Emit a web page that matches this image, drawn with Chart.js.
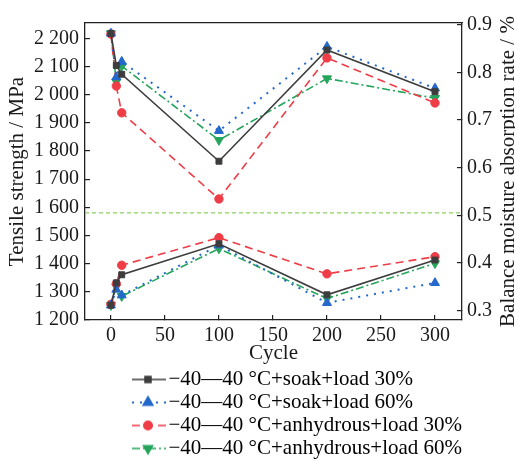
<!DOCTYPE html>
<html>
<head>
<meta charset="utf-8">
<script src="https://cdn.jsdelivr.net/npm/chart.js@4.4.1/dist/chart.umd.min.js"></script>
<style>
  html, body { margin: 0; padding: 0; background: #fff; overflow: hidden; }
  #wrap { width: 515px; height: 461px; }
</style>
</head>
<body>
<div id="wrap"><canvas id="chart"></canvas></div>
<script>
// cycles on the x axis
const cycles = [0, 5, 10, 100, 200, 300]

const seriesNames = [
    '\u221240\u201440 \u00b0C+soak+load 30%',
    '\u221240\u201440 \u00b0C+soak+load 60%',
    '\u221240\u201440 \u00b0C+anhydrous+load 30%',
    '\u221240\u201440 \u00b0C+anhydrous+load 60%'
]

// tensile strength, MPa (left axis)
const strengthSoak30 = [2218, 2104, 2073, 1764, 2159, 2011]
const strengthSoak60 = [2218, 2063, 2118, 1872, 2171, 2023]
const strengthAnhy30 = [2216, 2031, 1936, 1630, 2131, 1971]
const strengthAnhy60 = [2218, 2046, 2102, 1839, 2058, 1988]

// balance moisture absorption rate, % (right axis)
const moistSoak30 = [0.311, 0.358, 0.375, 0.440, 0.333, 0.406]
const moistSoak60 = [0.311, 0.344, 0.332, 0.437, 0.316, 0.358]
const moistAnhy30 = [0.313, 0.356, 0.395, 0.453, 0.377, 0.413]
const moistAnhy60 = [0.311, 0.350, 0.330, 0.430, 0.325, 0.399]

const separatorLevel = 0.505

const xTicks = [0, 50, 100, 150, 200, 250, 300]
const strengthTicks = [1200, 1300, 1400, 1500, 1600, 1700, 1800, 1900, 2000, 2100, 2200]
const moistTicks = [0.3, 0.4, 0.5, 0.6, 0.7, 0.8, 0.9]

const xMin = -24, xMax = 325
const serif = '"Liberation Serif", "Times New Roman", serif'
const ink = '#1a1a1a'

const styles = [
    { color: '#3d3d3d', dash: [], width: 1.6, point: 'rect', radius: 4.2, rotation: 0 },
    { color: '#2468cc', dash: [2, 6], width: 2, point: 'triangle', radius: 5.2, rotation: 0 },
    { color: '#ef3d48', dash: [8, 5], width: 1.6, point: 'circle', radius: 4.2, rotation: 0 },
    { color: '#25a55c', dash: [8, 3, 2, 3], width: 1.6, point: 'triangle', radius: 5.2, rotation: 180 }
]
const strengthSeries = [strengthSoak30, strengthSoak60, strengthAnhy30, strengthAnhy60]
const moistSeries = [moistSoak30, moistSoak60, moistAnhy30, moistAnhy60]

function toPoints(values) {
    return cycles.map((c, i) => ({ x: c, y: values[i] }))
}

function makeDataset(values, s, axis, label) {
    return {
        label: label,
        data: toPoints(values),
        yAxisID: axis,
        borderColor: s.color,
        backgroundColor: s.color,
        borderWidth: s.width,
        borderDash: s.dash,
        pointStyle: s.point,
        pointRadius: s.radius,
        pointRotation: s.rotation,
        pointBorderWidth: 1,
        pointBorderColor: s.color,
        pointBackgroundColor: s.color,
        tension: 0,
        fill: false
    }
}

// line + marker sample for the legend (wider than the box, centred on it)
function swatch(s) {
    const c = document.createElement('canvas')
    c.width = 174
    c.height = 22
    const g = c.getContext('2d')
    g.strokeStyle = s.color
    g.lineWidth = s.width
    g.setLineDash(s.dash)
    g.beginPath()
    g.moveTo(139, 11)
    g.lineTo(173, 11)
    g.stroke()
    g.setLineDash([])
    g.fillStyle = s.color
    Chart.helpers.drawPoint(g, { pointStyle: s.point, radius: s.radius, rotation: s.rotation, borderWidth: 1 }, 155, 11)
    return c
}

const datasets = []
strengthSeries.forEach((v, i) => datasets.push(makeDataset(v, styles[i], 'y', seriesNames[i])))
moistSeries.forEach((v, i) => datasets.push(makeDataset(v, styles[i], 'y1', seriesNames[i])))
datasets.push({
    label: 'separator',
    data: [{ x: xMin, y: separatorLevel }, { x: xMax, y: separatorLevel }],
    yAxisID: 'y1',
    borderColor: '#8ccf62',
    borderWidth: 1.2,
    borderDash: [4, 3],
    pointRadius: 0
})

const rightTitle = {
    id: 'rightTitle',
    afterDraw(chart) {
        const ctx = chart.ctx
        const a = chart.chartArea
        ctx.save()
        ctx.translate(514, (a.top + a.bottom) / 2)
        ctx.rotate(-Math.PI / 2)
        ctx.font = '21px ' + serif
        ctx.fillStyle = ink
        ctx.textAlign = 'center'
        ctx.textBaseline = 'alphabetic'
        ctx.fillText('Balance moisture absorption rate / %', 0, 0)
        ctx.restore()
    }
}

const frame = { color: '#222', width: 1.3 }
const inTicks = { drawOnChartArea: false, drawTicks: true, tickLength: -5, color: '#222', lineWidth: 1.2 }

new Chart(document.getElementById('chart'), {
    type: 'line',
    data: { datasets: datasets },
    plugins: [rightTitle],
    options: {
        animation: false,
        responsive: true,
        maintainAspectRatio: false,
        events: [],
        layout: { padding: { top: 16, bottom: -8, left: 0, right: 0 } },
        plugins: {
            tooltip: { enabled: false },
            legend: {
                position: 'bottom',
                align: 'start',
                labels: {
                    usePointStyle: true,
                    pointStyleWidth: 156,
                    padding: 2,
                    color: ink,
                    font: { family: serif, size: 21 },
                    generateLabels: () => styles.map((s, i) => ({
                        text: seriesNames[i],
                        pointStyle: swatch(s),
                        fillStyle: s.color,
                        strokeStyle: s.color,
                        lineWidth: 0,
                        hidden: false,
                        datasetIndex: i
                    }))
                }
            }
        },
        scales: {
            x: {
                type: 'linear',
                position: 'bottom',
                min: xMin,
                max: xMax,
                afterBuildTicks: s => { s.ticks = xTicks.map(v => ({ value: v })) },
                afterFit: s => { s.height = 47 },
                ticks: { autoSkip: false, maxRotation: 0, padding: 9, color: ink, font: { family: serif, size: 20 } },
                grid: inTicks,
                border: frame,
                title: { display: true, text: 'Cycle', color: ink, font: { family: serif, size: 21 }, padding: { top: 0, bottom: 1 } }
            },
            xTop: {
                type: 'linear',
                position: 'top',
                min: xMin,
                max: xMax,
                ticks: { display: false },
                grid: { display: false },
                border: frame,
                afterFit: s => { s.height = 0 }
            },
            y: {
                type: 'linear',
                position: 'left',
                min: 1200,
                max: 2255,
                afterBuildTicks: s => { s.ticks = strengthTicks.map(v => ({ value: v })) },
                afterFit: s => { s.width = 85 },
                ticks: {
                    autoSkip: false,
                    padding: 11,
                    color: ink,
                    font: { family: serif, size: 20 },
                    callback: v => String(v).replace(/\B(?=(\d{3})+(?!\d))/g, ' ')
                },
                grid: inTicks,
                border: frame,
                title: { display: true, text: 'Tensile strength / MPa', color: ink, font: { family: serif, size: 21 }, padding: { top: 5, bottom: 0 } }
            },
            y1: {
                type: 'linear',
                position: 'right',
                min: 0.28,
                max: 0.904,
                afterBuildTicks: s => { s.ticks = moistTicks.map(v => ({ value: v })) },
                afterFit: s => { s.width = 53 },
                ticks: {
                    autoSkip: false,
                    padding: 10,
                    color: ink,
                    font: { family: serif, size: 20 },
                    callback: v => v.toFixed(1)
                },
                grid: inTicks,
                border: frame
            }
        }
    }
})
</script>
</body>
</html>
